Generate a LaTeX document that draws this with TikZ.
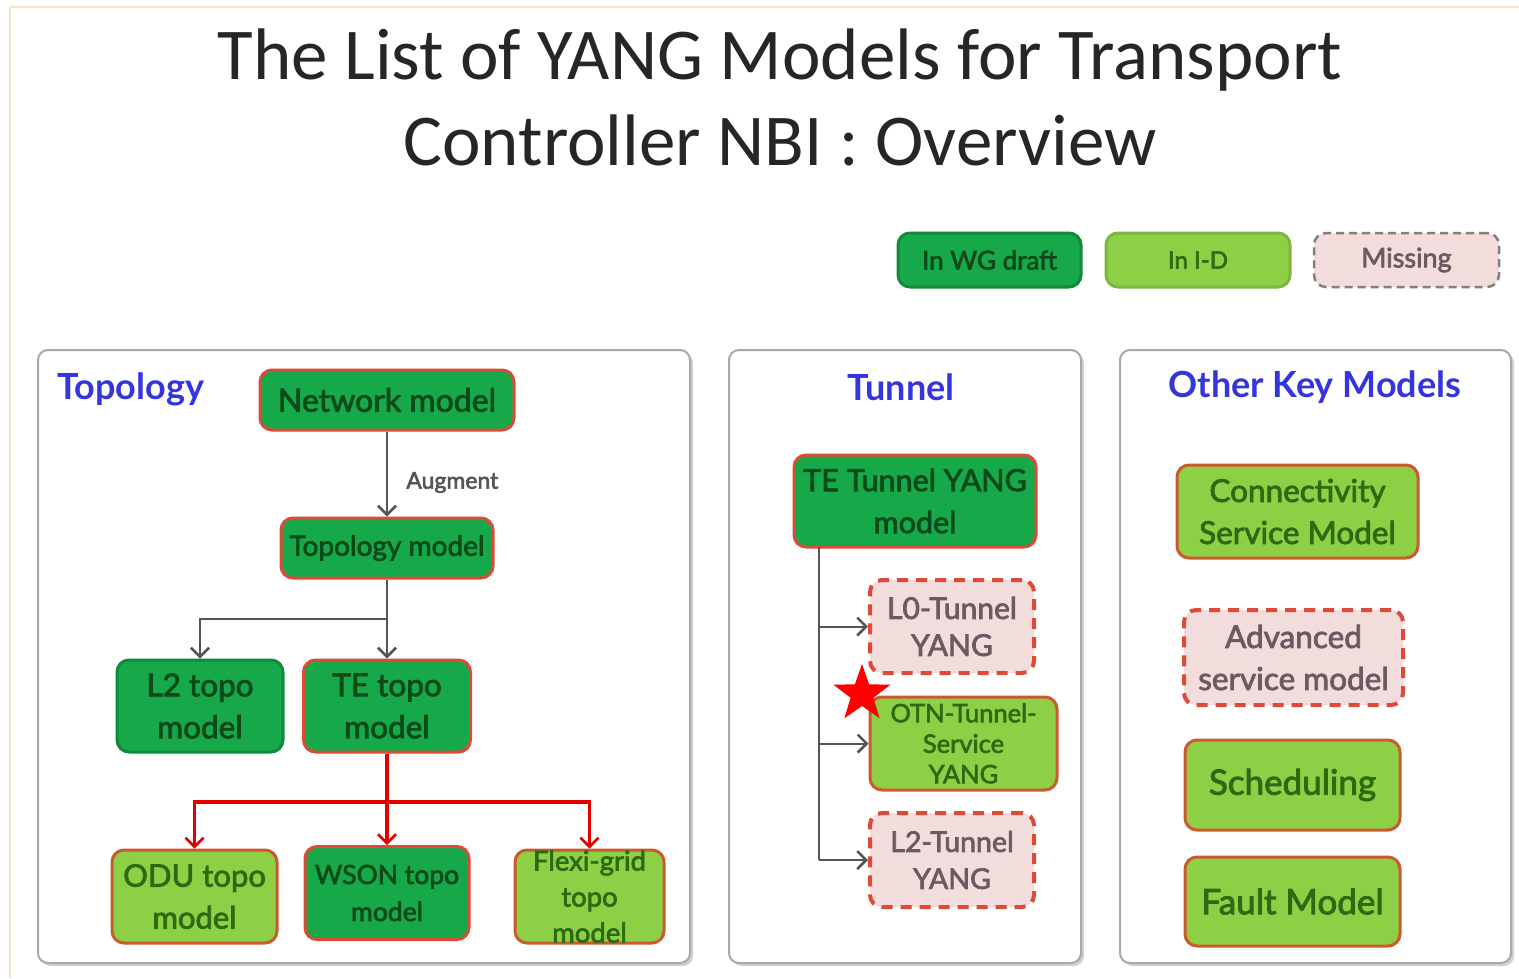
\documentclass[tikz,border=0pt]{standalone}
\usepackage{fontspec}
\setmainfont{Lato}
\newfontfamily\titlefont{Carlito}
\newfontfamily\boxfont{Lato}[FakeBold=2.5]
\usetikzlibrary{arrows.meta,shapes.geometric}

\definecolor{wgfill}{HTML}{17A84A}
\definecolor{wgtext}{HTML}{0C4A1A}
\definecolor{wgedge}{HTML}{128A3C}
\definecolor{idfill}{HTML}{8DD046}
\definecolor{idtext}{HTML}{2E6A12}
\definecolor{idedge}{HTML}{7DB540}
\definecolor{msfill}{HTML}{F3DCDC}
\definecolor{mstext}{HTML}{6A5A62}
\definecolor{redge}{HTML}{DC4A38}
\definecolor{oedge}{HTML}{CC5A2E}
\definecolor{hblue}{HTML}{3535E0}
\definecolor{paneledge}{HTML}{A9A9A9}
\definecolor{frame}{HTML}{F6E6C6}
\definecolor{conn}{HTML}{555555}

\tikzset{
  fs/.style n args={2}{font=\boxfont\fontsize{#1}{#2}\selectfont},
  box/.style={rectangle, rounded corners=12pt, align=center, inner sep=0pt, line width=3pt},
  wg/.style={box, fill=wgfill, draw=redge, text=wgtext},
  wgplain/.style={box, fill=wgfill, draw=wgedge, text=wgtext},
  idd/.style={box, fill=idfill, draw=oedge, text=idtext},
  miss/.style={box, fill=msfill, draw=redge, text=mstext, line width=4pt, dash pattern=on 11pt off 8pt},
  panel/.style={draw=paneledge, line width=2pt, rounded corners=10pt, fill=white},
  heading/.style={text=hblue, font=\fontsize{36}{42}\selectfont\bfseries},
  garrow/.style={draw=conn, line width=2pt, -{Straight Barb[length=9pt,width=18pt,line width=2.5pt]}},
  rarrow/.style={draw=red!90!black, line width=3.5pt, -{Straight Barb[length=9pt,width=18pt,line width=2.5pt]}},
  gline/.style={draw=conn, line width=2pt},
}

\begin{document}
\begin{tikzpicture}[x=1pt,y=-1pt]
\useasboundingbox (0,0) rectangle (1519,978);
\fill[white] (0,0) rectangle (1519,978);
% page frame
\draw[frame, line width=2pt] (10,978) -- (10,7) -- (1519,7);

% title
\node[font=\titlefont\fontsize{73}{86}\selectfont, align=center, text=black!85] (title) at (780,97)
  {The List of YANG Models for Transport\\Controller NBI : Overview};

% legend
\node[box, fill=wgfill, draw=wgedge, text=wgtext, minimum width=183pt, minimum height=54pt, fs={26}{30}] (lgwg) at (989.5,260) {In WG draft};
\node[box, fill=idfill, draw=idedge, text=idtext, minimum width=184pt, minimum height=54pt, fs={24}{30}] (lgid) at (1198,260) {In I-D};
\node[box, fill=msfill, draw=gray, text=mstext, line width=2.5pt, dash pattern=on 8pt off 5pt, minimum width=185pt, minimum height=54pt, fs={27}{30}] (lgms) at (1406.5,260) {Missing};

% panels with a light drop shadow
\foreach \a/\b in {38/690, 729/1081, 1120/1511}{
  \fill[black!18, rounded corners=10pt] (\a+3,353) rectangle (\b+3,966);
  \draw[panel] (\a,350) rectangle (\b,963);
}
\node[heading, anchor=west] (htopo) at (54,389) {Topology};
\node[heading] (htun) at (901,387) {Tunnel};
\node[heading] (hoth) at (1315,387) {Other Key Models};

% topology panel
\node[wg, minimum width=254pt, minimum height=60pt, fs={32}{42}] (net) at (387,400) {Network model};
\node[wg, minimum width=212pt, minimum height=60pt, fs={28}{36}] (topo) at (387,548) {Topology model};
\node[wgplain, minimum width=166pt, minimum height=92pt, fs={31.5}{42}] (l2topo) at (200,706) {L2 topo\\model};
\node[wg, minimum width=167pt, minimum height=92pt, fs={31.5}{42}] (tetopo) at (387,706) {TE topo\\model};
\node[idd, minimum width=165pt, minimum height=93pt, fs={31}{42}] (odu) at (194.5,896.5) {ODU topo\\model};
\node[wg, minimum width=164pt, minimum height=93pt, fs={26.5}{37}] (wson) at (387,893) {WSON topo\\model};
\node[idd, minimum width=149pt, minimum height=93pt, fs={27.5}{36}] (flexi) at (589.5,896.5) {Flexi-grid\\topo\\model};

\draw[garrow] (net.south) -- node[right=15pt, pos=0.6, text=conn, fs={23}{26}] (aug) {Augment} (topo.north);
\coordinate (tj) at (387,619);
\draw[garrow] (topo.south) -- (tetopo.north);
\draw[garrow] (tj) -| (l2topo.north);
\coordinate (rj) at (387,802);
\draw[rarrow] (tetopo.south) -- (wson.north);
\draw[rarrow] (rj) -| (odu.north);
\draw[rarrow] (rj) -| (flexi.north);

% tunnel panel
\node[wg, minimum width=242pt, minimum height=92pt, fs={30.5}{42}] (tetun) at (915,501) {TE Tunnel YANG\\model};
\node[miss, minimum width=164pt, minimum height=93pt, fs={30}{37}] (l0) at (952,626.5) {L0-Tunnel\\YANG};
\node[idd, minimum width=187pt, minimum height=93pt, fs={25.5}{30.5}] (otn) at (963.5,743.5) {OTN-Tunnel-\\Service\\YANG};
\node[miss, minimum width=164pt, minimum height=94pt, fs={28.5}{37}] (l2t) at (952,860) {L2-Tunnel\\YANG};
\coordinate (tv) at (819,547);
\draw[gline] (tv) -- (tv |- l2t.west);
\draw[garrow] (tv |- l0.west) -- (l0.west);
\draw[garrow] (tv |- otn.west) -- (otn.west);
\draw[garrow] (tv |- l2t.west) -- (l2t.west);
\node[star, star points=5, star point ratio=2.5, fill=red, inner sep=0pt, minimum size=60pt] (newmark) at (862,694) {};

% other key models panel
\node[idd, minimum width=241pt, minimum height=93pt, fs={31.5}{42}] (connsvc) at (1297.5,511.5) {Connectivity\\Service Model};
\node[miss, minimum width=219pt, minimum height=95pt, fs={31.5}{42}] (adv) at (1293.5,657.5) {Advanced\\service model};
\node[idd, minimum width=215pt, minimum height=90pt, fs={35}{42}] (sched) at (1292.5,785) {Scheduling};
\node[idd, minimum width=215pt, minimum height=89pt, fs={35}{42}] (fault) at (1292.5,901.5) {Fault Model};
\end{tikzpicture}
\end{document}
